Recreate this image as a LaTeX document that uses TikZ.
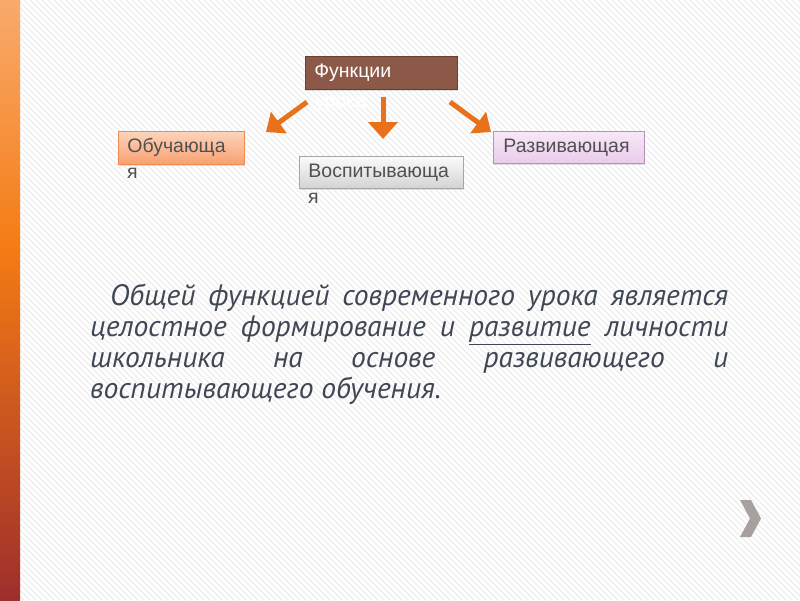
\documentclass[tikz,border=0pt]{standalone}
\usepackage{fontspec}
\setmainfont{Liberation Sans}
\newfontfamily\parafont{PT Sans}
\usetikzlibrary{arrows.meta,shadows}
\definecolor{barTop}{HTML}{F9AA6C}
\definecolor{barMid}{HTML}{F47B14}
\definecolor{barBot}{HTML}{9E2E2C}
\definecolor{stripe}{HTML}{EEEEEE}
\definecolor{fFill}{HTML}{8C5949}
\definecolor{fDraw}{HTML}{6B3F30}
\definecolor{oTop}{HTML}{FCD4BC}
\definecolor{oBot}{HTML}{F9A070}
\definecolor{oDraw}{HTML}{EF8A50}
\definecolor{gTop}{HTML}{FBFBFB}
\definecolor{gBot}{HTML}{D3D3D3}
\definecolor{gDraw}{HTML}{A5A5A5}
\definecolor{pTop}{HTML}{F7E8F7}
\definecolor{pBot}{HTML}{EACBEA}
\definecolor{pDraw}{HTML}{B593B5}
\definecolor{boxText}{HTML}{505050}
\definecolor{paraText}{HTML}{404754}
\definecolor{arrowC}{HTML}{E8711A}
\definecolor{chevC}{HTML}{A8A09E}
\tikzset{
  boxbase/.style={anchor=north west, inner xsep=9pt, inner ysep=0pt, align=left,
    text height=14pt, text depth=4pt, font=\fontsize{19.5}{22}\selectfont, text=boxText,
    line width=0.8pt, drop shadow={shadow xshift=1pt, shadow yshift=-1.5pt, opacity=0.22}},
  funcbox/.style={boxbase, fill=fFill, draw=fDraw, text=white},
  orangebox/.style={boxbase, top color=oTop, bottom color=oBot, draw=oDraw},
  graybox/.style={boxbase, top color=gTop, bottom color=gBot, draw=gDraw},
  purplebox/.style={boxbase, top color=pTop, bottom color=pBot, draw=pDraw},
  overflow/.style={anchor=base west, inner sep=0pt, font=\fontsize{19.5}{22}\selectfont, text=boxText},
  bigarrow/.style={draw=arrowC, line width=5pt, -{Triangle[width=26pt,length=16pt]}},
}
\begin{document}
\begin{tikzpicture}[x=1pt,y=-1pt]
\useasboundingbox (0,0) rectangle (800,600);
\fill[white] (0,0) rectangle (800,600);
\begin{scope}
\clip (0,0) rectangle (800,600);
\foreach \i in {-600,-594,...,800} \draw[stripe, line width=1.4pt] (\i,0) -- ++(600,600);
\end{scope}
% left bar
\shade[top color=barTop, bottom color=barMid] (0,0) rectangle (20,250);
\shade[top color=barMid, bottom color=barBot] (0,249.5) rectangle (20,600);

% boxes
\node[funcbox, minimum width=152pt, minimum height=33pt, text width=134pt] (f) at (305,56) {Функции};
\node[overflow, text=white] (fu) at (315,107) {урока};
\node[orangebox, minimum width=126pt, minimum height=33pt, text width=108pt] (o) at (118,131) {Обучающа};
\node[overflow] (o2) at (127,178) {я};
\node[graybox, minimum width=164pt, minimum height=32pt, text width=146pt] (v) at (299,156) {Воспитывающа};
\node[overflow] (v2) at (308,203) {я};
\node[purplebox, minimum width=151pt, minimum height=32pt, text width=131pt, inner xsep=10pt] (r) at (493,131) {Развивающая};

% arrows
\coordinate (a1s) at (307,102);
\coordinate (a1e) at (266,132);
\coordinate (a2s) at (383,97);
\coordinate (a2e) at (383,139);
\coordinate (a3s) at (450,102);
\coordinate (a3e) at (491,132);
\draw[bigarrow] (a1s) -- (a1e);
\draw[bigarrow, -{Triangle[width=29pt,length=17pt]}] (a2s) -- (a2e);
\draw[bigarrow] (a3s) -- (a3e);

% paragraph
\node[anchor=north west, inner sep=0pt, text width=638pt, align=justify, text=paraText,
  font=\parafont\itshape\fontsize{29.5}{31}\selectfont] (p) at (90,284)
  {\hspace*{20pt}Общей функцией современного урока является\linebreak
   целостное формирование и \underline{развитие} личности\linebreak
   школьника на основе развивающего и\linebreak
   воспитывающего обучения.};

% chevron
\fill[chevC] (740,500) -- (751,500) -- (761,518.5) -- (751,537) -- (740,537) -- (750,518.5) -- cycle;
\end{tikzpicture}
\end{document}
